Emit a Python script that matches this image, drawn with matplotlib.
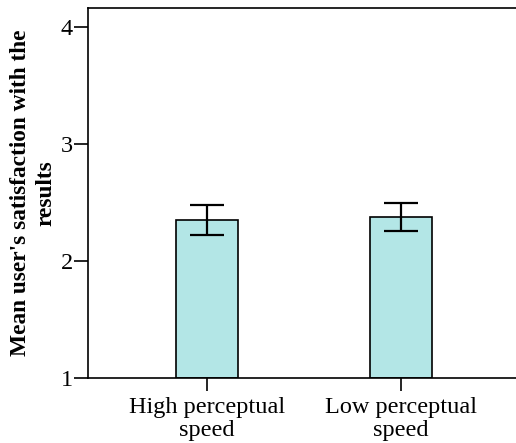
import numpy as np
import matplotlib
matplotlib.use('Agg')
import matplotlib.pyplot as plt

plt.rcParams['font.family'] = ['Liberation Serif', 'DejaVu Serif']

# values
groups = ['High perceptual\nspeed', 'Low perceptual\nspeed']
means = [2.353, 2.379]
err_low = [2.222, 2.259]
err_high = [2.480, 2.498]

x = np.arange(len(groups))
yerr = [np.array(means) - np.array(err_low), np.array(err_high) - np.array(means)]

fig = plt.figure(figsize=(5.16, 4.43), dpi=100)
ax = fig.add_axes([88/516, 1 - 378/443, 1 - 88/516, 370/443])

ax.bar(x, np.array(means) - 1, bottom=1, width=0.32, color='#b3e6e6',
       edgecolor='black', linewidth=1.2, zorder=2)
ax.errorbar(x, means, yerr=yerr, fmt='none', ecolor='black', elinewidth=1.6,
            capsize=12, capthick=1.6, zorder=3)

ax.set_xlim(-0.61, 1.59)
ax.set_ylim(1, 4.16)
ax.set_yticks([1, 2, 3, 4])
ax.set_xticks(x)
ax.set_xticklabels(groups, fontsize=17.5, linespacing=1.1)
ax.tick_params(axis='y', labelsize=17.5, length=10, width=1.2, pad=1)
ax.tick_params(axis='x', length=9, width=1.2, pad=5)
for s in ['left', 'bottom', 'top']:
    ax.spines[s].set_linewidth(1.2)
ax.spines['right'].set_visible(False)

ax.set_ylabel("Mean user's satisfaction with the\nresults", fontsize=16.8,
              fontweight='bold', linespacing=1.25, labelpad=3)

fig.savefig('out.png', dpi=100)
